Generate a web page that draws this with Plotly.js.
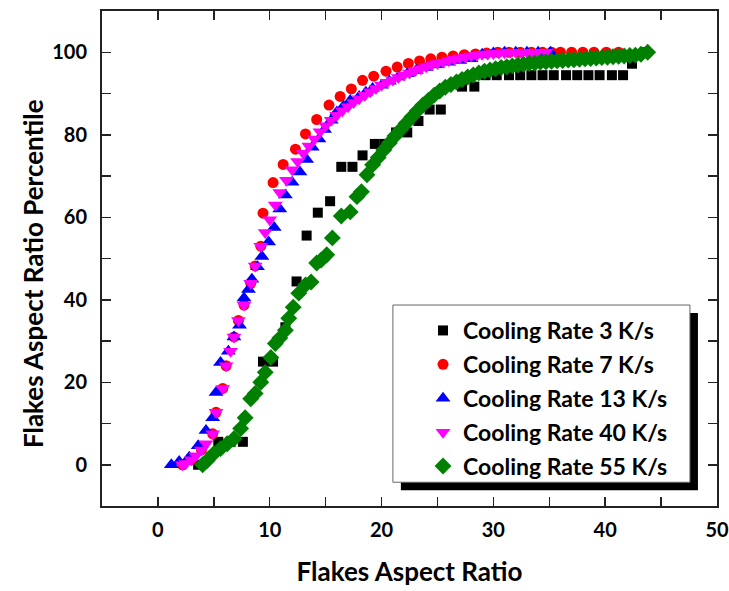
<!DOCTYPE html>
<html>
<head>
<meta charset="utf-8">
<script src="https://cdn.plot.ly/plotly-3.0.1.min.js"></script>
<style>
  html, body { margin: 0; padding: 0; background: #ffffff; }
  #chart { width: 729px; height: 591px; }
</style>
</head>
<body>
<div id="chart"></div>
<script>
// Cumulative distributions of flake aspect ratio for five cooling rates.

const names = [
  'Cooling Rate 3 K/s',
  'Cooling Rate 7 K/s',
  'Cooling Rate 13 K/s',
  'Cooling Rate 40 K/s',
  'Cooling Rate 55 K/s'
];

// 3 K/s
const rate3X = [3.6, 5.4, 6.5, 7.6, 9.4, 10.3, 11.4, 12.4, 13.3, 14.3, 15.4, 16.4, 17.4, 18.3,
  19.4, 20.3, 21.3, 22.3, 23.3, 24.3, 25.3, 27.2, 28.3, 29.3, 30.3, 31.4, 32.4, 33.4, 34.4,
  35.4, 36.5, 37.5, 38.5, 39.5, 40.6, 41.6, 42.4, 43.6];
const rate3Y = [0, 5.56, 5.56, 5.56, 25, 25, 33.33, 44.44, 55.56, 61.11, 63.89, 72.22, 72.22, 75,
  77.78, 77.78, 80.56, 80.56, 83.33, 86.11, 86.11, 91.67, 91.67, 94.44, 94.44, 94.44, 94.44,
  94.44, 94.44, 94.44, 94.44, 94.44, 94.44, 94.44, 94.44, 94.44, 97.22, 100];

// 7 K/s
const rate7X = [2.2, 3.0, 3.9, 4.9, 5.2, 5.8, 6.1, 6.8, 7.2, 7.7, 8.3, 8.7, 9.2, 9.4, 10.3, 11.2,
  12.3, 13.2, 14.2, 15.3, 16.3, 17.3, 18.3, 19.3, 20.4, 21.4, 22.4, 23.4, 24.4, 25.4, 26.4,
  27.4, 28.4, 29.4, 30.4, 31.4, 32.4, 33.4, 34.4, 35.2, 36.0, 37.0, 38.0, 39.0, 40.1, 41.2];
const rate7Y = [0, 1.2, 3.6, 7.5, 12.7, 18.5, 24, 31, 35, 38.7, 44, 48.2, 53, 61, 68.4, 72.8,
  76.5, 80.2, 83.7, 87.2, 89.3, 91.1, 93.2, 94.2, 95.4, 96.4, 97.3, 97.9, 98.4, 98.8, 99.1,
  99.4, 99.6, 99.8, 100, 100, 100, 100, 100, 100, 100, 100, 100, 100, 100, 100];

// 13 K/s
const rate13X = [1.2, 1.9, 2.8, 3.6, 4.3, 4.9, 5.2, 5.6, 6.3, 6.8, 7.3, 7.7, 8.1, 8.4, 8.9, 9.3,
  9.9, 10.4, 10.9, 11.4, 12.0, 12.7, 13.3, 13.8, 14.4, 14.9, 15.5, 16.0, 16.6, 17.2, 18.0,
  18.6, 19.2, 20.0, 20.7, 21.5, 22.3, 23.1, 24.0, 25.0, 26.0, 27.0, 28.0, 29.0, 30.0, 31.0,
  32.0, 33.0, 34.0, 35.1];
const rate13Y = [0, 0.8, 1.8, 4.6, 8.3, 11.4, 17.5, 24.8, 27.5, 31, 33.8, 40.4, 42.5, 45, 48,
  50.5, 54, 57.5, 62, 65.4, 68.5, 71, 74, 77, 79, 81.3, 83.5, 85.5, 87, 88.3, 89.3, 90.3,
  91.2, 92, 93, 94, 94.8, 95.6, 96.3, 97, 97.6, 98, 98.4, 99.5, 99.8, 100, 100, 100, 100, 100];

// 40 K/s
const rate40X = [2.2, 2.5, 3.0, 3.4, 3.9, 4.3, 4.9, 5.2, 5.8, 6.1, 6.5, 6.8, 7.2, 7.7, 8.3, 8.7,
  9.2, 9.6, 10.0, 10.5, 10.9, 11.5, 12.0, 12.5, 13.0, 13.5, 14.0, 14.5, 15.0, 15.5, 16.0,
  16.5, 17.0, 17.5, 18.0, 18.5, 19.0, 19.5, 20.0, 20.5, 21.0, 21.5, 22.0, 22.5, 23.0, 23.5,
  24.0, 24.5, 25.0, 25.5, 26.0, 26.5, 27.0, 27.5, 28.0, 28.5, 29.0, 29.5, 30.0, 30.5, 31.0,
  31.5, 32.0, 32.5, 33.0, 33.5, 34.0, 34.7];
const rate40Y = [0, 0.3, 1.2, 2.2, 3.6, 5.1, 7.5, 12.7, 18.5, 24, 27.5, 31, 35, 38.7, 44, 48.2,
  53, 56.3, 59.4, 63, 66, 69, 71.5, 73.5, 75.5, 77.3, 79, 80.7, 82.2, 83.5, 84.7, 85.8, 86.8,
  87.8, 88.7, 89.6, 90.4, 91.2, 92, 92.7, 93.3, 93.9, 94.5, 95, 95.5, 96, 96.5, 96.9, 97.3,
  97.6, 98, 98.3, 98.6, 98.8, 99.1, 99.3, 99.5, 99.6, 99.7, 99.8, 99.9, 100, 100, 100, 100,
  100, 100, 100];

// 55 K/s
const rate55X = [4.0, 4.4, 5.0, 5.6, 6.2, 6.8, 7.4, 7.8, 8.3, 8.7, 9.2, 9.6, 10.1, 10.5, 10.9,
  11.4, 11.7, 12.1, 12.6, 13.2, 13.7, 14.2, 14.6, 15.1, 15.6, 16.4, 17.2, 17.8, 18.2, 18.7,
  19.2, 19.7, 20.2, 20.7, 21.2, 21.7, 22.2, 22.7, 23.2, 23.7, 24.2, 24.7, 25.2, 25.7, 26.2,
  26.7, 27.2, 27.7, 28.2, 28.7, 29.2, 29.7, 30.2, 30.7, 31.2, 31.7, 32.2, 32.7, 33.2, 33.7,
  34.2, 34.7, 35.2, 35.7, 36.2, 36.7, 37.2, 37.7, 38.2, 38.7, 39.2, 39.7, 40.2, 40.7, 41.2,
  41.7, 42.2, 42.7, 43.2, 43.8];
const rate55Y = [0, 1, 2.7, 3.9, 5.1, 6.3, 8.8, 11.4, 16, 17.3, 20, 22.4, 26, 29.4, 30.7, 32.6,
  35.5, 38.2, 41.6, 43.6, 44.3, 48.9, 49.6, 50.9, 55, 60.3, 61.3, 65, 66.2, 70.3, 72.7, 74.5,
  76.3, 78, 79.7, 81.2, 82.8, 84.3, 85.8, 87.2, 88.4, 89.6, 90.6, 91.5, 92.2, 92.8, 93.4, 94,
  94.5, 95, 95.4, 95.7, 96, 96.3, 96.5, 96.7, 96.9, 97.1, 97.3, 97.4, 97.6, 97.7, 97.8, 97.9,
  98, 98.1, 98.2, 98.3, 98.4, 98.5, 98.6, 98.7, 98.8, 98.9, 99, 99.1, 99.2, 99.3, 99.5, 100];

const xTicks = [0, 10, 20, 30, 40, 50];
const yTicks = [0, 20, 40, 60, 80, 100];

const FONT = 'Lato, "Open Sans", sans-serif';

function series(i, x, y, symbol, color, size) {
  return {
    type: 'scatter', mode: 'markers', name: names[i], x: x, y: y,
    legendgroup: 'g' + i,
    marker: { symbol: symbol, color: color, size: size, line: { width: 0 } }
  };
}

const traces = [
  series(0, rate3X, rate3Y, 'square', '#000000', 10),
  series(1, rate7X, rate7Y, 'circle', '#ff0000', 11),
  series(2, rate13X, rate13Y, 'triangle-up', '#0000ff', 13),
  series(3, rate40X, rate40Y, 'triangle-down', '#ff00ff', 13),
  series(4, rate55X, rate55Y, 'diamond', '#008000', 13)
];

const axisCommon = {
  showgrid: false, zeroline: false, showline: true, linecolor: '#222222', linewidth: 2,
  mirror: 'allticks', ticks: 'inside', ticklen: 9, tickwidth: 1.5, tickcolor: '#222222',
  tickfont: { family: FONT, size: 20, color: '#000000', weight: 'bold' }
};

const layout = {
  width: 729, height: 591,
  margin: { l: 102, r: 12, t: 11, b: 85 },
  paper_bgcolor: '#ffffff', plot_bgcolor: '#ffffff',
  showlegend: true,
  xaxis: Object.assign({}, axisCommon, {
    range: [-5, 50], tickmode: 'array', tickvals: xTicks, ticktext: xTicks.map(String),
    ticklabelstandoff: 5,
    minor: { dtick: 5, tick0: 0, ticks: 'inside', ticklen: 9, tickwidth: 1.5, tickcolor: '#222222' },
    title: { text: 'Flakes Aspect Ratio', standoff: 23,
             font: { family: FONT, size: 26, color: '#000000', weight: 'bold' } }
  }),
  yaxis: Object.assign({}, axisCommon, {
    range: [-10, 110], tickmode: 'array', tickvals: yTicks, ticktext: yTicks.map(String),
    ticklabelstandoff: 9,
    minor: { dtick: 10, tick0: 0, ticks: 'inside', ticklen: 9, tickwidth: 1.5, tickcolor: '#222222' }
  }),
  annotations: [
    // y-axis title, sitting a little below the centre of the axis
    { text: 'Flakes Aspect Ratio Percentile', textangle: -90, showarrow: false,
      xref: 'paper', yref: 'paper', x: -0.111, y: 0.47, xanchor: 'center', yanchor: 'middle',
      font: { family: FONT, size: 26, color: '#000000', weight: 'bold' } }
  ],
  legend: {
    x: 0.522, y: 0.398, xanchor: 'left', yanchor: 'top',
    bgcolor: 'rgba(0,0,0,0)', borderwidth: 0,
    traceorder: 'grouped', tracegroupgap: 1,
    font: { family: FONT, size: 23, color: '#000000', weight: 'bold' }
  },
  shapes: [
    // drop shadow and frame of the legend box
    { type: 'rect', xref: 'paper', yref: 'paper', layer: 'below',
      x0: 0.486, x1: 0.969, y0: 0.032, y1: 0.390,
      fillcolor: '#000000', line: { width: 0 } },
    { type: 'rect', xref: 'paper', yref: 'paper', layer: 'below',
      x0: 0.473, x1: 0.956, y0: 0.048, y1: 0.406,
      fillcolor: '#ffffff', line: { color: '#666666', width: 1 } }
  ]
};

Plotly.newPlot('chart', traces, layout, { displayModeBar: false, staticPlot: true });
</script>
</body>
</html>
